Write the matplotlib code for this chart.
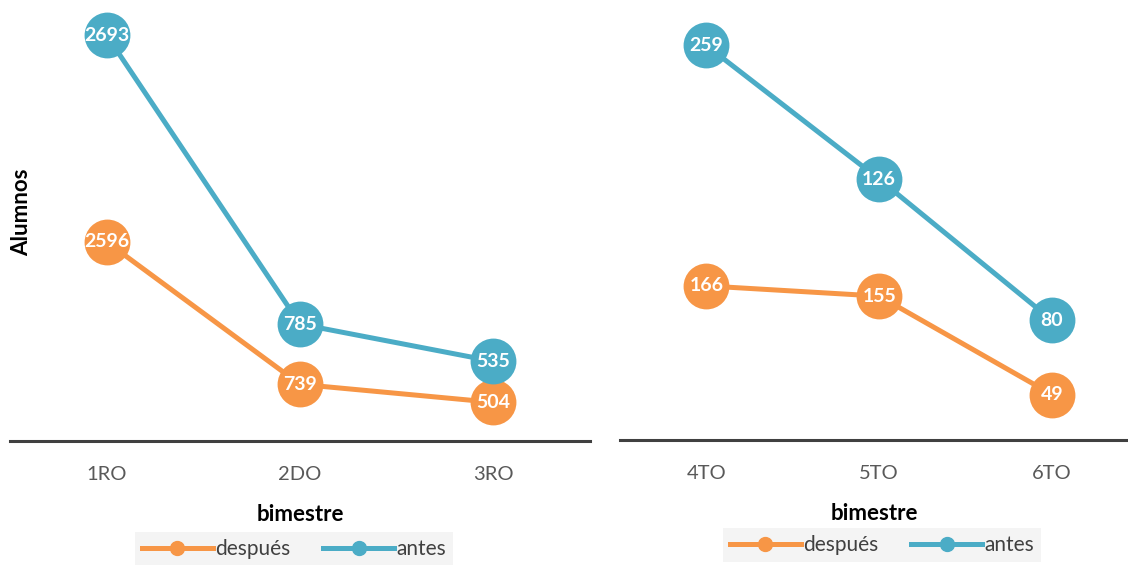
import matplotlib.pyplot as plt
from matplotlib.lines import Line2D

# data (stacked line chart: "antes" drawn on top of "después")
cats_left = ['1RO', '2DO', '3RO']
despues_left = [2596, 739, 504]
antes_left = [2693, 785, 535]

cats_right = ['4TO', '5TO', '6TO']
despues_right = [166, 155, 49]
antes_right = [259, 126, 80]

ORANGE = '#F79646'
BLUE = '#4BACC6'
AXIS = '#404040'
TICK = '#595959'

plt.rcParams['font.family'] = ['Lato', 'DejaVu Sans']

W, H = 1128, 565
fig = plt.figure(figsize=(W / 100, H / 100), dpi=100)


def px_axes(left, top, right, bottom):
    return fig.add_axes([left / W, 1 - bottom / H, (right - left) / W, (bottom - top) / H])


def draw_panel(ax, cats, despues, antes, ymax, xmax):
    x = list(range(len(cats)))
    stacked = [d + a for d, a in zip(despues, antes)]
    for vals, labels, color in [(despues, despues, ORANGE), (stacked, antes, BLUE)]:
        ax.plot(x, vals, color=color, lw=3.6, marker='o', ms=33,
                markeredgewidth=0, clip_on=False, zorder=3)
        for xi, v, lab in zip(x, vals, labels):
            ax.text(xi, v, str(lab), color='white', fontsize=14, fontweight='bold',
                    ha='center', va='center', zorder=4)
    ax.set_xlim(-0.5, xmax)
    ax.set_ylim(0, ymax)
    ax.set_xticks(x)
    ax.set_xticklabels(cats, color=TICK, fontsize=14.5)
    ax.tick_params(axis='x', length=0, pad=18)
    ax.set_yticks([])
    for s in ['top', 'right', 'left']:
        ax.spines[s].set_visible(False)
    ax.spines['bottom'].set_color(AXIS)
    ax.spines['bottom'].set_linewidth(2.2)
    ax.set_xlabel('bimestre', fontsize=16, fontweight='bold', labelpad=15)
    ax.patch.set_alpha(0)


ax1 = px_axes(10, 0, 590, 441)
draw_panel(ax1, cats_left, despues_left, antes_left, 5750, 2.5)

ax2 = px_axes(620, 0, 1128, 440)
draw_panel(ax2, cats_right, despues_right, antes_right, 474, 2.44)

fig.text(22 / W, 1 - 212 / H, 'Alumnos', rotation=90, fontsize=16,
         fontweight='bold', ha='center', va='center')

handles = [Line2D([], [], color=ORANGE, lw=3.6, marker='o', ms=10),
           Line2D([], [], color=BLUE, lw=3.6, marker='o', ms=10)]
for cx, cy in [(294, 549), (882, 545)]:
    leg = fig.legend(handles, ['después', 'antes'], loc='center',
                     bbox_to_anchor=(cx / W, 1 - cy / H), ncol=2, frameon=True,
                     fancybox=False, fontsize=15, handlelength=3.4,
                     handletextpad=0.1, columnspacing=1.6, borderpad=0.35,
                     borderaxespad=0)
    leg.get_frame().set_facecolor('#F2F2F2')
    leg.get_frame().set_edgecolor('none')
    for t in leg.get_texts():
        t.set_color(AXIS)

fig.savefig('out.png', dpi=100)
